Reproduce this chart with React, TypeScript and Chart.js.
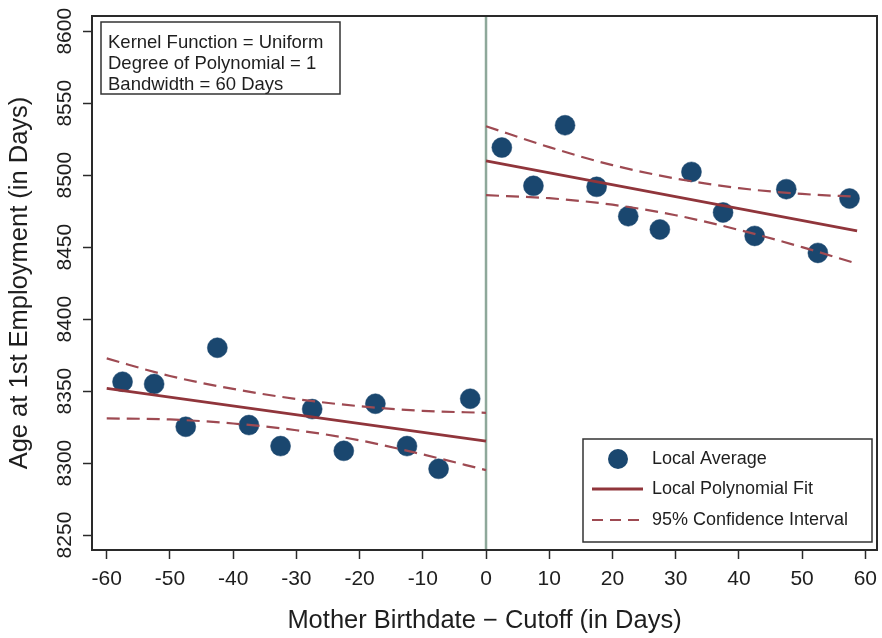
import React, { useEffect, useRef } from "react";
import { Chart, registerables } from "chart.js";

Chart.register(...registerables);

// ---- data ----
const BIN_X_LEFT = [-57.5, -52.5, -47.5, -42.5, -37.5, -32.5, -27.5, -22.5, -17.5, -12.5, -7.5, -2.5];
const AVG_LEFT = [8356.5, 8354.9, 8325.2, 8380.1, 8326.4, 8311.8, 8337.5, 8308.5, 8341.2, 8311.8, 8296.0, 8344.7];
const BIN_X_RIGHT = [2.5, 7.5, 12.5, 17.5, 22.5, 27.5, 32.5, 37.5, 42.5, 47.5, 52.5, 57.5];
const AVG_RIGHT = [8519.2, 8492.6, 8534.7, 8491.9, 8471.5, 8462.3, 8502.3, 8474.1, 8457.8, 8490.3, 8446.0, 8483.8];

const FIT_X_LEFT = [-60, 0];
const FIT_LEFT = [8351.9, 8315.3];
const FIT_X_RIGHT = [0, 58.7];
const FIT_RIGHT = [8509.9, 8461.3];

const CI_X_LEFT = [-60, -50, -40, -30, -20, -10, 0];
const CI_UP_LEFT = [8372.7, 8360.5, 8351.5, 8344.5, 8339.5, 8336.3, 8334.9];
const CI_LO_LEFT = [8331.0, 8330.3, 8327.5, 8322.8, 8315.8, 8306.0, 8295.1];
const CI_X_RIGHT = [0, 10, 20, 30, 40, 50, 58.7];
const CI_UP_RIGHT = [8534.0, 8519.5, 8507.0, 8497.7, 8491.0, 8487.0, 8485.0];
const CI_LO_RIGHT = [8486.1, 8484.0, 8479.5, 8472.2, 8462.0, 8450.0, 8438.5];

const X_TICKS = [-60, -50, -40, -30, -20, -10, 0, 10, 20, 30, 40, 50, 60];
const Y_TICKS = [8250, 8300, 8350, 8400, 8450, 8500, 8550, 8600];
const X_RANGE = [-62.33, 61.85];
const Y_RANGE = [8239.6, 8610.6];
const CUTOFF = 0;

const X_TITLE = "Mother Birthdate \u2212 Cutoff (in Days)";
const Y_TITLE = "Age at 1st Employment (in Days)";
const NOTE_LINES = ["Kernel Function = Uniform", "Degree of Polynomial = 1", "Bandwidth = 60 Days"];
const LEGEND_LABELS = ["Local Average", "Local Polynomial Fit", "95% Confidence Interval"];

// ---- styles ----
const FONT = "'Liberation Sans', Arial, Helvetica, sans-serif";
const POINT_COLOR = "#1a476f";
const FIT_COLOR = "#90353b";
const CI_COLOR = "#9e4a52";
const CUTOFF_COLOR = "#8ea89a";
const AXIS_COLOR = "#2a2a2a";
const TEXT_COLOR = "#1e1e1e";
const DASH = [13, 7];

const zip = (xs: number[], ys: number[]) => xs.map((x, i) => ({ x, y: ys[i] }));

const lineDs = (label: string, xs: number[], ys: number[], dashed: boolean) => ({
  label,
  data: zip(xs, ys),
  showLine: true,
  borderColor: dashed ? CI_COLOR : FIT_COLOR,
  borderWidth: dashed ? 2.2 : 2.8,
  borderDash: dashed ? DASH : [],
  pointRadius: 0,
  pointHoverRadius: 0,
  fill: false,
  cubicInterpolationMode: dashed ? "monotone" : "default",
  order: 1,
});

export default function App() {
  const ref = useRef<HTMLCanvasElement | null>(null);

  useEffect(() => {
    document.body.style.margin = "0";
    const canvas = ref.current;
    if (!canvas) return;

    const cutoffPlugin = {
      id: "cutoffLine",
      beforeDatasetsDraw(chart: any) {
        const { ctx, chartArea, scales } = chart;
        const px = scales.x.getPixelForValue(CUTOFF);
        ctx.save();
        ctx.strokeStyle = CUTOFF_COLOR;
        ctx.lineWidth = 2.5;
        ctx.beginPath();
        ctx.moveTo(px, chartArea.top);
        ctx.lineTo(px, chartArea.bottom);
        ctx.stroke();
        ctx.restore();
      },
    };

    const framePlugin = {
      id: "frameAndBoxes",
      afterDraw(chart: any) {
        const { ctx, chartArea } = chart;
        ctx.save();
        // frame
        ctx.strokeStyle = AXIS_COLOR;
        ctx.lineWidth = 2;
        ctx.strokeRect(chartArea.left, chartArea.top, chartArea.right - chartArea.left, chartArea.bottom - chartArea.top);

        // note box
        const nl = chartArea.left + 9;
        const nt = chartArea.top + 6;
        const nw = 239;
        const nh = 72;
        ctx.fillStyle = "#ffffff";
        ctx.fillRect(nl, nt, nw, nh);
        ctx.lineWidth = 1.5;
        ctx.strokeStyle = "#333";
        ctx.strokeRect(nl, nt, nw, nh);
        ctx.fillStyle = TEXT_COLOR;
        ctx.font = `18.5px ${FONT}`;
        ctx.textBaseline = "middle";
        ctx.textAlign = "left";
        NOTE_LINES.forEach((t, i) => ctx.fillText(t, nl + 7, nt + 21 + i * 20.8));

        // legend box
        const lw = 289;
        const lh = 103;
        const ll = chartArea.right - 5 - lw;
        const lt = chartArea.bottom - 8 - lh;
        ctx.fillStyle = "#ffffff";
        ctx.fillRect(ll, lt, lw, lh);
        ctx.strokeStyle = "#333";
        ctx.lineWidth = 1.5;
        ctx.strokeRect(ll, lt, lw, lh);
        const rows = [lt + 20, lt + 50, lt + 81];
        // marker
        ctx.fillStyle = POINT_COLOR;
        ctx.beginPath();
        ctx.arc(ll + 35, rows[0], 10, 0, Math.PI * 2);
        ctx.fill();
        // solid line
        ctx.strokeStyle = FIT_COLOR;
        ctx.lineWidth = 2.8;
        ctx.beginPath();
        ctx.moveTo(ll + 9, rows[1]);
        ctx.lineTo(ll + 60, rows[1]);
        ctx.stroke();
        // dashed line
        ctx.strokeStyle = CI_COLOR;
        ctx.lineWidth = 2.2;
        ctx.setLineDash([11, 7]);
        ctx.beginPath();
        ctx.moveTo(ll + 9, rows[2]);
        ctx.lineTo(ll + 62, rows[2]);
        ctx.stroke();
        ctx.setLineDash([]);
        ctx.fillStyle = TEXT_COLOR;
        ctx.font = `18px ${FONT}`;
        ctx.textBaseline = "middle";
        LEGEND_LABELS.forEach((t, i) => ctx.fillText(t, ll + 69, rows[i]));
        ctx.restore();
      },
    };

    const bgPlugin = {
      id: "bg",
      beforeDraw(chart: any) {
        const { ctx, width, height } = chart;
        ctx.save();
        ctx.fillStyle = "#ffffff";
        ctx.fillRect(0, 0, width, height);
        ctx.restore();
      },
    };

    const chart = new Chart(canvas, {
      type: "scatter",
      data: {
        datasets: [
          lineDs("Local Polynomial Fit", FIT_X_LEFT, FIT_LEFT, false),
          lineDs("Local Polynomial Fit", FIT_X_RIGHT, FIT_RIGHT, false),
          lineDs("95% Confidence Interval", CI_X_LEFT, CI_UP_LEFT, true),
          lineDs("95% Confidence Interval", CI_X_LEFT, CI_LO_LEFT, true),
          lineDs("95% Confidence Interval", CI_X_RIGHT, CI_UP_RIGHT, true),
          lineDs("95% Confidence Interval", CI_X_RIGHT, CI_LO_RIGHT, true),
          {
            label: "Local Average",
            data: [...zip(BIN_X_LEFT, AVG_LEFT), ...zip(BIN_X_RIGHT, AVG_RIGHT)],
            pointRadius: 10,
            pointHoverRadius: 10,
            pointBackgroundColor: POINT_COLOR,
            pointBorderColor: POINT_COLOR,
            pointBorderWidth: 0.5,
            showLine: false,
            order: 2,
          },
        ] as any,
      },
      options: {
        responsive: false,
        animation: false,
        layout: { autoPadding: false, padding: { top: 16, right: 5, left: 0, bottom: 0 } },
        plugins: { legend: { display: false }, tooltip: { enabled: false } },
        scales: {
          x: {
            type: "linear",
            min: X_RANGE[0],
            max: X_RANGE[1],
            afterBuildTicks: (s: any) => {
              s.ticks = X_TICKS.map((v) => ({ value: v }));
            },
            afterFit: (s: any) => {
              s.height = 88;
              s.paddingLeft = 0;
              s.paddingRight = 0;
            },
            ticks: {
              color: TEXT_COLOR,
              font: { family: FONT, size: 21 },
              padding: 8,
              maxRotation: 0,
              minRotation: 0,
              autoSkip: false,
              callback: (v: any) => String(v),
            },
            grid: { drawOnChartArea: false, drawTicks: true, tickLength: 9, tickColor: AXIS_COLOR, tickWidth: 1.5 },
            border: { display: true, color: AXIS_COLOR, width: 2 },
            title: {
              display: true,
              text: X_TITLE,
              color: TEXT_COLOR,
              font: { family: FONT, size: 25.5 },
              padding: { top: 0, bottom: 2 },
            },
          },
          y: {
            type: "linear",
            min: Y_RANGE[0],
            max: Y_RANGE[1],
            afterBuildTicks: (s: any) => {
              s.ticks = Y_TICKS.map((v) => ({ value: v }));
            },
            afterFit: (s: any) => {
              s.width = 92;
              s.paddingTop = 0;
              s.paddingBottom = 0;
            },
            ticks: {
              color: TEXT_COLOR,
              font: { family: FONT, size: 21 },
              padding: -6,
              minRotation: 90,
              maxRotation: 90,
              crossAlign: "center",
              autoSkip: false,
              callback: (v: any) => String(v),
            },
            grid: { drawOnChartArea: false, drawTicks: true, tickLength: 9, tickColor: AXIS_COLOR, tickWidth: 1.5 },
            border: { display: true, color: AXIS_COLOR, width: 2 },
            title: {
              display: true,
              text: Y_TITLE,
              color: TEXT_COLOR,
              font: { family: FONT, size: 25.5 },
              padding: { top: 5, bottom: 0 },
            },
          },
        },
      } as any,
      plugins: [bgPlugin, cutoffPlugin, framePlugin],
    });

    return () => chart.destroy();
  }, []);

  return <canvas ref={ref} width={882} height={638} style={{ display: "block" }} />;
}
